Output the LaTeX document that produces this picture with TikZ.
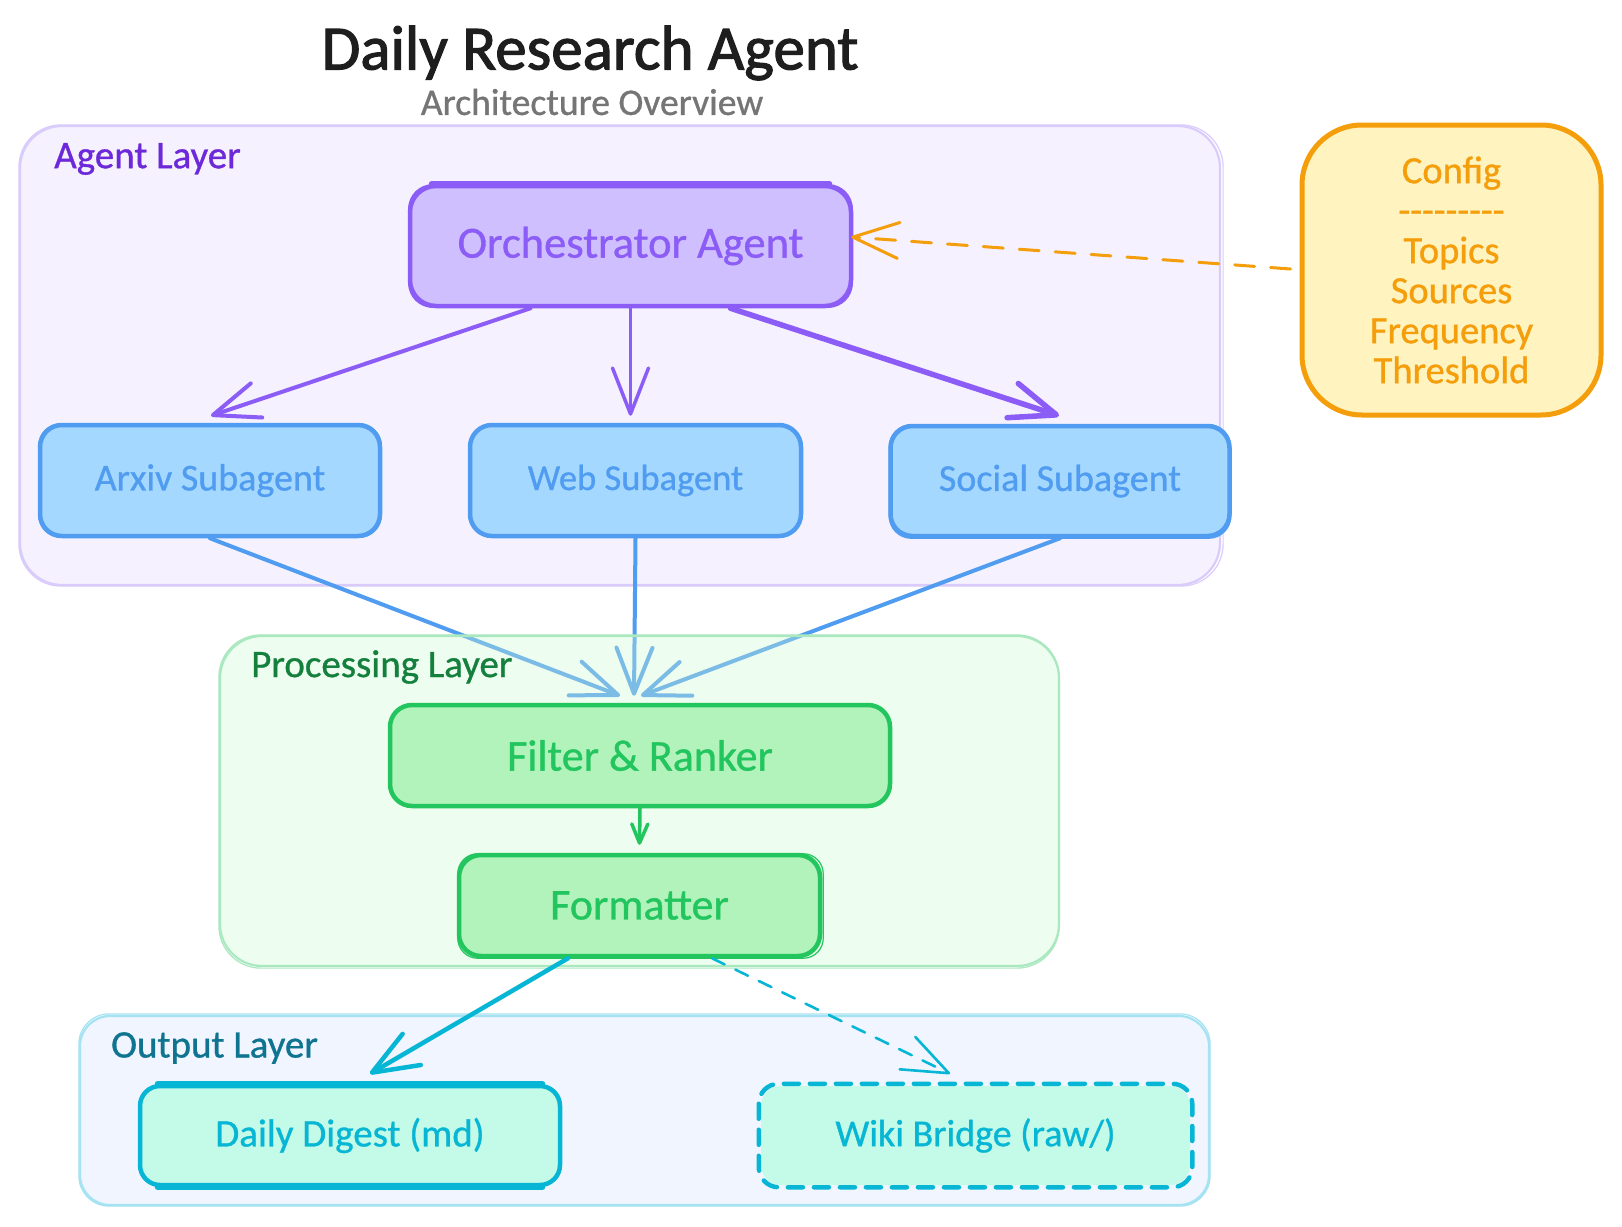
\documentclass[tikz,border=0pt]{standalone}
\usepackage{fontspec}
\setmainfont{Carlito}[FakeBold=0.8]
\newfontfamily\titlefont{Carlito}[FakeBold=1.8]
\usetikzlibrary{arrows.meta,calc}
\pgfdeclarelayer{bgL}\pgfdeclarelayer{arrowL}\pgfdeclarelayer{procL}
\pgfsetlayers{bgL,arrowL,procL,main}
\definecolor{cTitle}{HTML}{1E1E1E}
\definecolor{cSub}{HTML}{757575}
\definecolor{purS}{HTML}{8B5CF6}\definecolor{purF}{HTML}{D0BFFF}
\definecolor{bluS}{HTML}{4F9CF0}\definecolor{bluF}{HTML}{A5D8FF}
\definecolor{greS}{HTML}{22C55E}\definecolor{greF}{HTML}{B2F2BB}
\definecolor{cyaS}{HTML}{06B6D4}\definecolor{cyaF}{HTML}{C3FAE8}
\definecolor{ambS}{HTML}{F59E0B}\definecolor{ambF}{HTML}{FFF3BF}
\definecolor{lay1F}{HTML}{F5F1FF}\definecolor{lay1S}{HTML}{D9CCFB}
\definecolor{lay2F}{HTML}{CEFAD4}\definecolor{lay2S}{HTML}{AAE8C0}
\definecolor{lay3F}{HTML}{F0F5FF}\definecolor{lay3S}{HTML}{A5E3F2}
\definecolor{lab1}{HTML}{6D28D9}\definecolor{lab2}{HTML}{15803D}\definecolor{lab3}{HTML}{0E7490}
\newcommand{\fsz}[1]{\fontsize{#1pt}{#1pt}\selectfont}
\newcommand{\sketchrect}[8]{% node, colour, width, radius, dx1, dy1, dx2, dy2
  \draw[#2,line width=#3pt,rounded corners=#4pt]
    ([shift={(#5,#6)}]#1.north west) rectangle ([shift={(#7,#8)}]#1.south east);}
% a heavier stroke along one side: node, colour, width, inset, side, offset
\newcommand{\sketchside}[6]{%
  \draw[#2,line width=#3pt,line cap=round]
    ([shift={(#4,#6)}]#1.#5 west) -- ([shift={(-#4,#6)}]#1.#5 east);}
\tikzset{
  x=1pt,y=-1pt,
  boxnode/.style={rectangle,inner sep=0pt,align=center,line width=4.5pt},
  layernode/.style={rectangle,inner sep=0pt,line width=2.2pt,rounded corners=42pt},
  laylabel/.style={anchor=west,inner sep=0pt,font=\fsz{39}},
  purbox/.style={boxnode,draw=purS,fill=purF,text=purS,rounded corners=26pt,font=\fsz{44.5}},
  blubox/.style={boxnode,draw=bluS,fill=bluF,text=bluS,rounded corners=22pt,font=\fsz{38}},
  grebox/.style={boxnode,draw=greS,fill=greF,text=greS,rounded corners=22pt,font=\fsz{44}},
  cyabox/.style={boxnode,draw=cyaS,fill=cyaF,text=cyaS,rounded corners=20pt,font=\fsz{39}},
  vhead/.style={-{Straight Barb[length=46pt,width=36pt,round]},line cap=round},
  purarrow/.style={vhead,draw=purS,line width=4pt},
  bluarrow/.style={vhead,draw=bluS,line width=4pt},
  cyaarrow/.style={vhead,draw=cyaS,line width=4.5pt},
}
\begin{document}
\begin{tikzpicture}
\useasboundingbox (0,0) rectangle (1622,1226);
\begin{pgfonlayer}{bgL}
  \fill[white] (0,0) rectangle (1622,1226);
  \node[layernode,draw=lay1S,fill=lay1F,minimum width=1200pt,minimum height=459pt] (agentlayer) at (620,355.5) {};
  \sketchrect{agentlayer}{lay1S}{1.2}{42}{0}{0}{2}{0}
  \node[layernode,draw=lay3S,fill=lay3F,minimum width=1129pt,minimum height=189pt,rounded corners=30pt] (outlayer) at (644.5,1110.5) {};
  \sketchrect{outlayer}{lay3S}{1.2}{30}{0}{-1}{0}{0}
\end{pgfonlayer}
\begin{pgfonlayer}{procL}
  \node[layernode,draw=lay2S,fill=lay2F,fill opacity=.35,minimum width=839pt,minimum height=330pt] (proclayer) at (639.5,801) {};
  \sketchrect{proclayer}{lay2S}{1.2}{42}{0}{0}{-1}{1}
\end{pgfonlayer}

\node[inner sep=0pt,text=cTitle,font=\titlefont\fsz{63}] (title) at (590,53) {Daily Research Agent};
\node[inner sep=0pt,text=cSub,font=\fsz{37.6}] (subtitle) at (592,102) {Architecture Overview};

\node[laylabel,text=lab1] (agentlabel) at (54,159) {Agent Layer};
\node[laylabel,text=lab2] (proclabel) at (251,667) {Processing Layer};
\node[laylabel,text=lab3] (outlabel) at (111,1048) {Output Layer};

\node[purbox,minimum width=441pt,minimum height=120pt] (orch) at (630.5,246) {Orchestrator Agent};
\sketchside{orch}{purS}{6}{24}{north}{0}
\sketchrect{orch}{purS}{1.2}{24}{1}{1}{-1}{-1}

\node[blubox,minimum width=340pt,minimum height=111pt] (arxiv) at (210,480.5) {Arxiv Subagent};
\sketchrect{arxiv}{bluS}{1.2}{22}{1}{1}{-1}{-1}
\node[blubox,font=\fsz{36.5},minimum width=331pt,minimum height=111pt] (web) at (635.5,480.5) {Web Subagent};
\node[blubox,minimum width=339pt,minimum height=110pt] (social) at (1060,481) {Social Subagent};
\sketchrect{social}{bluS}{1.2}{22}{1}{1}{-1}{0}

\node[grebox,minimum width=500pt,minimum height=101pt] (filter) at (640,755.5) {Filter \& Ranker};
\node[grebox,minimum width=361pt,minimum height=101pt] (formatter) at (639.5,905.5) {Formatter};
\sketchrect{formatter}{greS}{1.2}{20}{1}{1}{1}{0}

\node[cyabox,minimum width=420pt,minimum height=99pt] (digest) at (350,1135.5) {Daily Digest (md)};
\sketchside{digest}{cyaS}{6}{20}{north}{0}
\sketchside{digest}{cyaS}{6}{20}{south}{0}
\node[boxnode,fill=cyaF,text=cyaS,rounded corners=20pt,font=\fsz{38},minimum width=429pt,minimum height=99pt] (wiki) at (975.5,1135.5) {Wiki Bridge (raw/)};
\draw[cyaS,line width=4.5pt,rounded corners=20pt,dash pattern=on 15pt off 11pt,line cap=round]
  (wiki.north west) rectangle (wiki.south east);

\node[boxnode,line width=5pt,draw=ambS,fill=ambF,text=ambS,rounded corners=60pt,font=\fontsize{38.5pt}{40pt}\selectfont,minimum width=299pt,minimum height=290pt,align=center] (config) at (1451.5,270)
  {Config\\-{}-{}-{}-{}-{}-{}-{}-{}-\\Topics\\Sources\\Frequency\\Threshold};

\begin{pgfonlayer}{arrowL}
  \draw[bluarrow] (arxiv.south) -- ([shift={(-20,-7)}]filter.north);
  \draw[bluarrow] (web.south) -- ([shift={(-6,-7)}]filter.north);
  \draw[bluarrow] (social.south) -- ([shift={(1,-7)}]filter.north);
\end{pgfonlayer}

\draw[purarrow] ([xshift=-100pt]orch.south) -- ([shift={(1,-7)}]arxiv.north);
\draw[purarrow,line width=3.5pt] (orch.south) -- ([shift={(-5,-7)}]web.north);
\draw[purarrow,line width=5.5pt] ([xshift=100pt]orch.south) -- ([shift={(-1,-8)}]social.north);
\draw[greS,line width=3.5pt,line cap=round,-{Straight Barb[length=19pt,width=16pt,round]}] (filter.south) -- ([shift={(0,-8)}]formatter.north);
\draw[cyaarrow] ([xshift=-71.5pt]formatter.south) -- ([shift={(20,-10)}]digest.north);
\draw[vhead,cyaS,line width=2.6pt,dash pattern=on 14pt off 12pt] ([xshift=72.5pt]formatter.south) -- ([shift={(-25.5,-10)}]wiki.north);
\draw[vhead,ambS,line width=3pt,dash pattern=on 20pt off 16pt] ([shift={(-9,-1)}]config.west) -- ([shift={(-2,-9)}]orch.east);
\end{tikzpicture}
\end{document}
